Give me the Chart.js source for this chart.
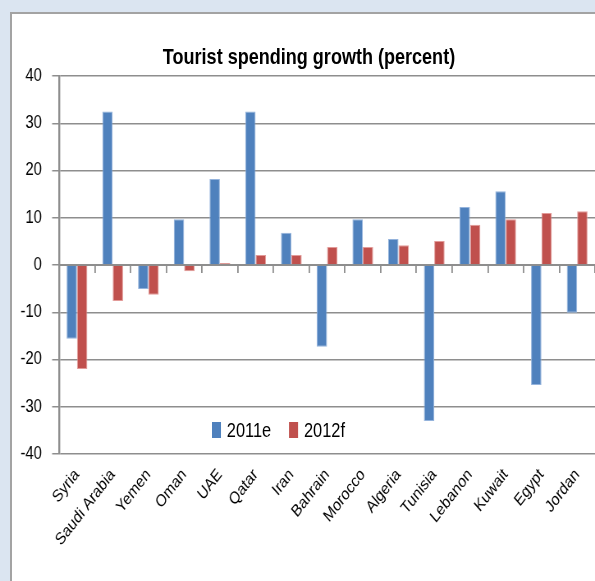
<!DOCTYPE html>
<html lang="en">
<head>
  <meta charset="UTF-8" />
  <title>Tourist spending growth</title>
  <script src="https://cdn.jsdelivr.net/npm/chart.js"></script>
  <style>
    html, body {
      margin: 0;
      padding: 0;
      width: 595px;
      height: 581px;
      overflow: hidden;
      background: #dbe5f1;
      font-family: "Liberation Sans", Arial, sans-serif;
    }
    #panel {
      position: absolute;
      left: 10px;
      top: 12px;
      width: 620px;
      height: 600px;
      background: #fff;
      border-left: 2px solid #a3a3a3;
      border-top: 2px solid #a3a3a3;
    }
    /* the chart is drawn wide and squeezed to a narrow look */
    canvas {
      position: absolute;
      left: 0;
      top: 0;
    }
    #title {
      position: absolute;
      left: 109px;
      width: 400px;
      top: 44px;
      line-height: 26px;
      text-align: center;
      font-size: 22px;
      font-weight: bold;
      color: #000;
      white-space: nowrap;
      transform: scaleX(0.82);
    }
    #legend {
      position: absolute;
      left: 212px;
      top: 418px;
      display: flex;
      font-size: 20px;
      line-height: 24px;
      color: #000;
      transform: scaleX(0.82);
      transform-origin: left center;
    }
    #legend .item {
      display: flex;
      align-items: center;
      margin-right: 22px;
    }
    #legend .swatch {
      width: 11px;
      height: 16px;
      margin-right: 7px;
    }
  </style>
</head>
<body>
  <div id="panel"></div>
  <canvas id="chart" width="725" height="581" style="width:595px;height:581px"></canvas>
  <div id="title">Tourist spending growth (percent)</div>
  <div id="legend"></div>

  <script>
    const countries = ['Syria', 'Saudi Arabia', 'Yemen', 'Oman', 'UAE', 'Qatar', 'Iran', 'Bahrain',
      'Morocco', 'Algeria', 'Tunisia', 'Lebanon', 'Kuwait', 'Egypt', 'Jordan'];
    const growth2011 = [-15.6, 32.5, -5.1, 9.7, 18.2, 32.5, 6.8, -17.3, 9.7, 5.5, -33.0, 12.3, 15.6, -25.4, -10.1];
    const growth2012 = [-22.0, -7.6, -6.3, -1.3, 0.4, 2.1, 2.1, 3.8, 3.8, 4.2, 5.1, 8.5, 9.7, 11.0, 11.4];
    const yTicks = [40, 30, 20, 10, 0, -10, -20, -30, -40];

    const gridGray = '#8e8e8e';
    const font = '"Liberation Sans", Arial, sans-serif';

    const chart = new Chart(document.getElementById('chart'), {
      type: 'bar',
      data: {
        labels: countries,
        datasets: [
          {
            label: '2011e',
            data: growth2011,
            backgroundColor: '#4f81bd',
            borderColor: '#94b3dc',
            borderWidth: 1
          },
          {
            label: '2012f',
            data: growth2012,
            backgroundColor: '#c0504d',
            borderColor: '#e29a98',
            borderWidth: 1
          }
        ]
      },
      options: {
        responsive: false,
        animation: false,
        datasets: {
          bar: { categoryPercentage: 0.58, barPercentage: 1.0 }
        },
        layout: { padding: { top: 76, right: 0, bottom: 0, left: 0 } },
        plugins: {
          legend: { display: false },
          tooltip: { enabled: false }
        },
        scales: {
          x: {
            type: 'category',
            offset: true,
            grid: { display: false },
            border: { display: false },
            ticks: {
              minRotation: 47,
              maxRotation: 47,
              padding: 3,
              color: '#000',
              font: { family: font, size: 17 }
            },
            afterFit: scale => { scale.height = 127; }
          },
          // tick marks sitting on the zero line between categories
          xZero: {
            type: 'category',
            position: { y: 0 },
            offset: true,
            grid: { offset: true, drawOnChartArea: false, tickLength: 7, color: gridGray, lineWidth: 1.8 },
            border: { color: gridGray, width: 2 },
            ticks: { display: false }
          },
          y: {
            min: -40,
            max: 40,
            afterBuildTicks: scale => { scale.ticks = yTicks.map(v => ({ value: v })); },
            grid: { color: gridGray, lineWidth: 1.5, tickLength: 8.5 },
            border: { color: gridGray, width: 2.4 },
            ticks: {
              padding: 12.5,
              color: '#000',
              font: { family: font, size: 18 }
            },
            afterFit: scale => { scale.width = 72; }
          }
        }
      }
    });

    // legend built from the datasets
    const legend = document.getElementById('legend');
    chart.data.datasets.forEach(ds => {
      const item = document.createElement('div');
      item.className = 'item';
      const sw = document.createElement('span');
      sw.className = 'swatch';
      sw.style.background = ds.backgroundColor;
      item.appendChild(sw);
      item.appendChild(document.createTextNode(ds.label));
      legend.appendChild(item);
    });
  </script>
</body>
</html>
